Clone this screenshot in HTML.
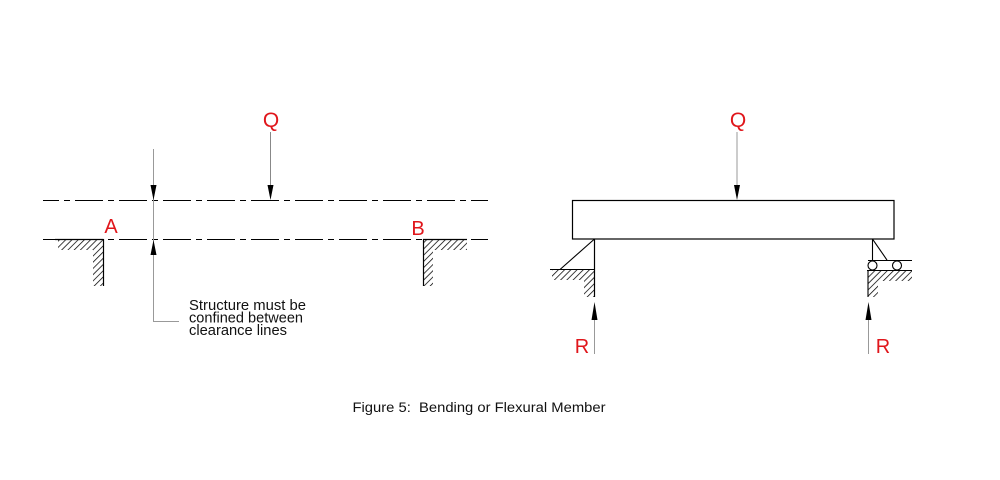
<!DOCTYPE html>
<html>
<head>
<meta charset="utf-8">
<style>
  html,body{margin:0;padding:0;background:#fff;}
  svg{display:block;}
  text{font-family:"Liberation Sans",Arial,sans-serif;}
</style>
</head>
<body>
<svg width="1000" height="480" viewBox="0 0 1000 480" xmlns="http://www.w3.org/2000/svg">
  <defs>
    <pattern id="hatch" patternUnits="userSpaceOnUse" width="4.4" height="4.4" patternTransform="rotate(45)">
      <line x1="0" y1="0" x2="0" y2="4.4" stroke="#000" stroke-width="1.5"/>
    </pattern>
  </defs>
  <rect width="1000" height="480" fill="#fff"/>

  <!-- ===== LEFT DIAGRAM ===== -->
  <line x1="43" y1="200.5" x2="488" y2="200.5" stroke="#000" stroke-width="1" stroke-dasharray="28 5 6 5" stroke-dashoffset="12"/>
  <line x1="43" y1="239.5" x2="488" y2="239.5" stroke="#000" stroke-width="1" stroke-dasharray="28 5 6 5" stroke-dashoffset="12"/>

  <!-- support A -->
  <rect x="58" y="240" width="45" height="10" fill="url(#hatch)"/>
  <rect x="93" y="250" width="10" height="36" fill="url(#hatch)"/>
  <line x1="55" y1="239.5" x2="103.5" y2="239.5" stroke="#000" stroke-width="1.2"/>
  <line x1="103.5" y1="239" x2="103.5" y2="286" stroke="#000" stroke-width="1.2"/>

  <!-- support B -->
  <rect x="423" y="240" width="44" height="10" fill="url(#hatch)"/>
  <rect x="423" y="250" width="10" height="36" fill="url(#hatch)"/>
  <line x1="423" y1="239.5" x2="467" y2="239.5" stroke="#000" stroke-width="1.2"/>
  <line x1="423.5" y1="239" x2="423.5" y2="286" stroke="#000" stroke-width="1.2"/>

  <!-- Q arrow left -->
  <line x1="270.5" y1="132" x2="270.5" y2="187" stroke="#888" stroke-width="1"/>
  <polygon points="267.5,185 273.5,185 270.5,200" fill="#000"/>

  <!-- clearance dimension line -->
  <line x1="153.5" y1="149" x2="153.5" y2="322" stroke="#999" stroke-width="1"/>
  <line x1="153.5" y1="321.5" x2="179" y2="321.5" stroke="#999" stroke-width="1"/>
  <polygon points="150.5,185 156.5,185 153.5,200" fill="#000"/>
  <polygon points="150.5,255 156.5,255 153.5,240" fill="#000"/>

  <!-- labels -->
  <text x="271" y="127" font-size="21" fill="#e0161b" text-anchor="middle">Q</text>
  <text x="111" y="233" font-size="20" fill="#e0161b" text-anchor="middle">A</text>
  <text x="418" y="235" font-size="20" fill="#e0161b" text-anchor="middle">B</text>

  <text x="189" y="310" font-size="14.5" fill="#111" textLength="117" lengthAdjust="spacingAndGlyphs">Structure must be</text>
  <text x="189" y="322.5" font-size="14.5" fill="#111" textLength="114" lengthAdjust="spacingAndGlyphs">confined between</text>
  <text x="189" y="335" font-size="14.5" fill="#111" textLength="98" lengthAdjust="spacingAndGlyphs">clearance lines</text>

  <!-- ===== RIGHT DIAGRAM ===== -->
  <rect x="572.5" y="200.5" width="321.5" height="38.5" fill="none" stroke="#000" stroke-width="1.2"/>

  <!-- Q arrow right -->
  <line x1="737" y1="132" x2="737" y2="187" stroke="#999" stroke-width="1"/>
  <polygon points="734,185 740,185 737,200" fill="#000"/>
  <text x="738" y="127" font-size="21" fill="#e0161b" text-anchor="middle">Q</text>

  <!-- left pinned support -->
  <rect x="552" y="270" width="42" height="10" fill="url(#hatch)"/>
  <rect x="584" y="280" width="10" height="17" fill="url(#hatch)"/>
  <line x1="594.5" y1="239" x2="594.5" y2="297" stroke="#000" stroke-width="1.2"/>
  <line x1="594.5" y1="239" x2="560" y2="269.5" stroke="#000" stroke-width="1.1"/>
  <line x1="550" y1="269.5" x2="594.5" y2="269.5" stroke="#000" stroke-width="1.1"/>

  <!-- right roller support -->
  <line x1="872.5" y1="239" x2="872.5" y2="260" stroke="#000" stroke-width="1.1"/>
  <line x1="872.5" y1="239" x2="887" y2="260" stroke="#000" stroke-width="1.1"/>
  <line x1="868" y1="260.5" x2="912" y2="260.5" stroke="#000" stroke-width="1.1"/>
  <circle cx="872.5" cy="265.5" r="4.5" fill="#fff" stroke="#000" stroke-width="1.1"/>
  <circle cx="897" cy="265.5" r="4.5" fill="#fff" stroke="#000" stroke-width="1.1"/>
  <rect x="868" y="271" width="44" height="10" fill="url(#hatch)"/>
  <rect x="868" y="281" width="10" height="16" fill="url(#hatch)"/>
  <line x1="867" y1="270.5" x2="912" y2="270.5" stroke="#000" stroke-width="1.1"/>
  <line x1="868" y1="270" x2="868" y2="297" stroke="#000" stroke-width="1.1"/>

  <!-- R arrows -->
  <line x1="594.5" y1="318" x2="594.5" y2="354" stroke="#999" stroke-width="1"/>
  <polygon points="591.5,320 597.5,320 594.5,302" fill="#000"/>
  <text x="582" y="353" font-size="20" fill="#e0161b" text-anchor="middle">R</text>

  <line x1="868.5" y1="318" x2="868.5" y2="354" stroke="#999" stroke-width="1"/>
  <polygon points="865.5,320 871.5,320 868.5,302" fill="#000"/>
  <text x="883" y="353" font-size="20" fill="#e0161b" text-anchor="middle">R</text>

  <!-- caption -->
  <text x="352.5" y="412" font-size="13.5" fill="#111" textLength="253" lengthAdjust="spacingAndGlyphs" xml:space="preserve">Figure 5:  Bending or Flexural Member</text>
</svg>
</body>
</html>
